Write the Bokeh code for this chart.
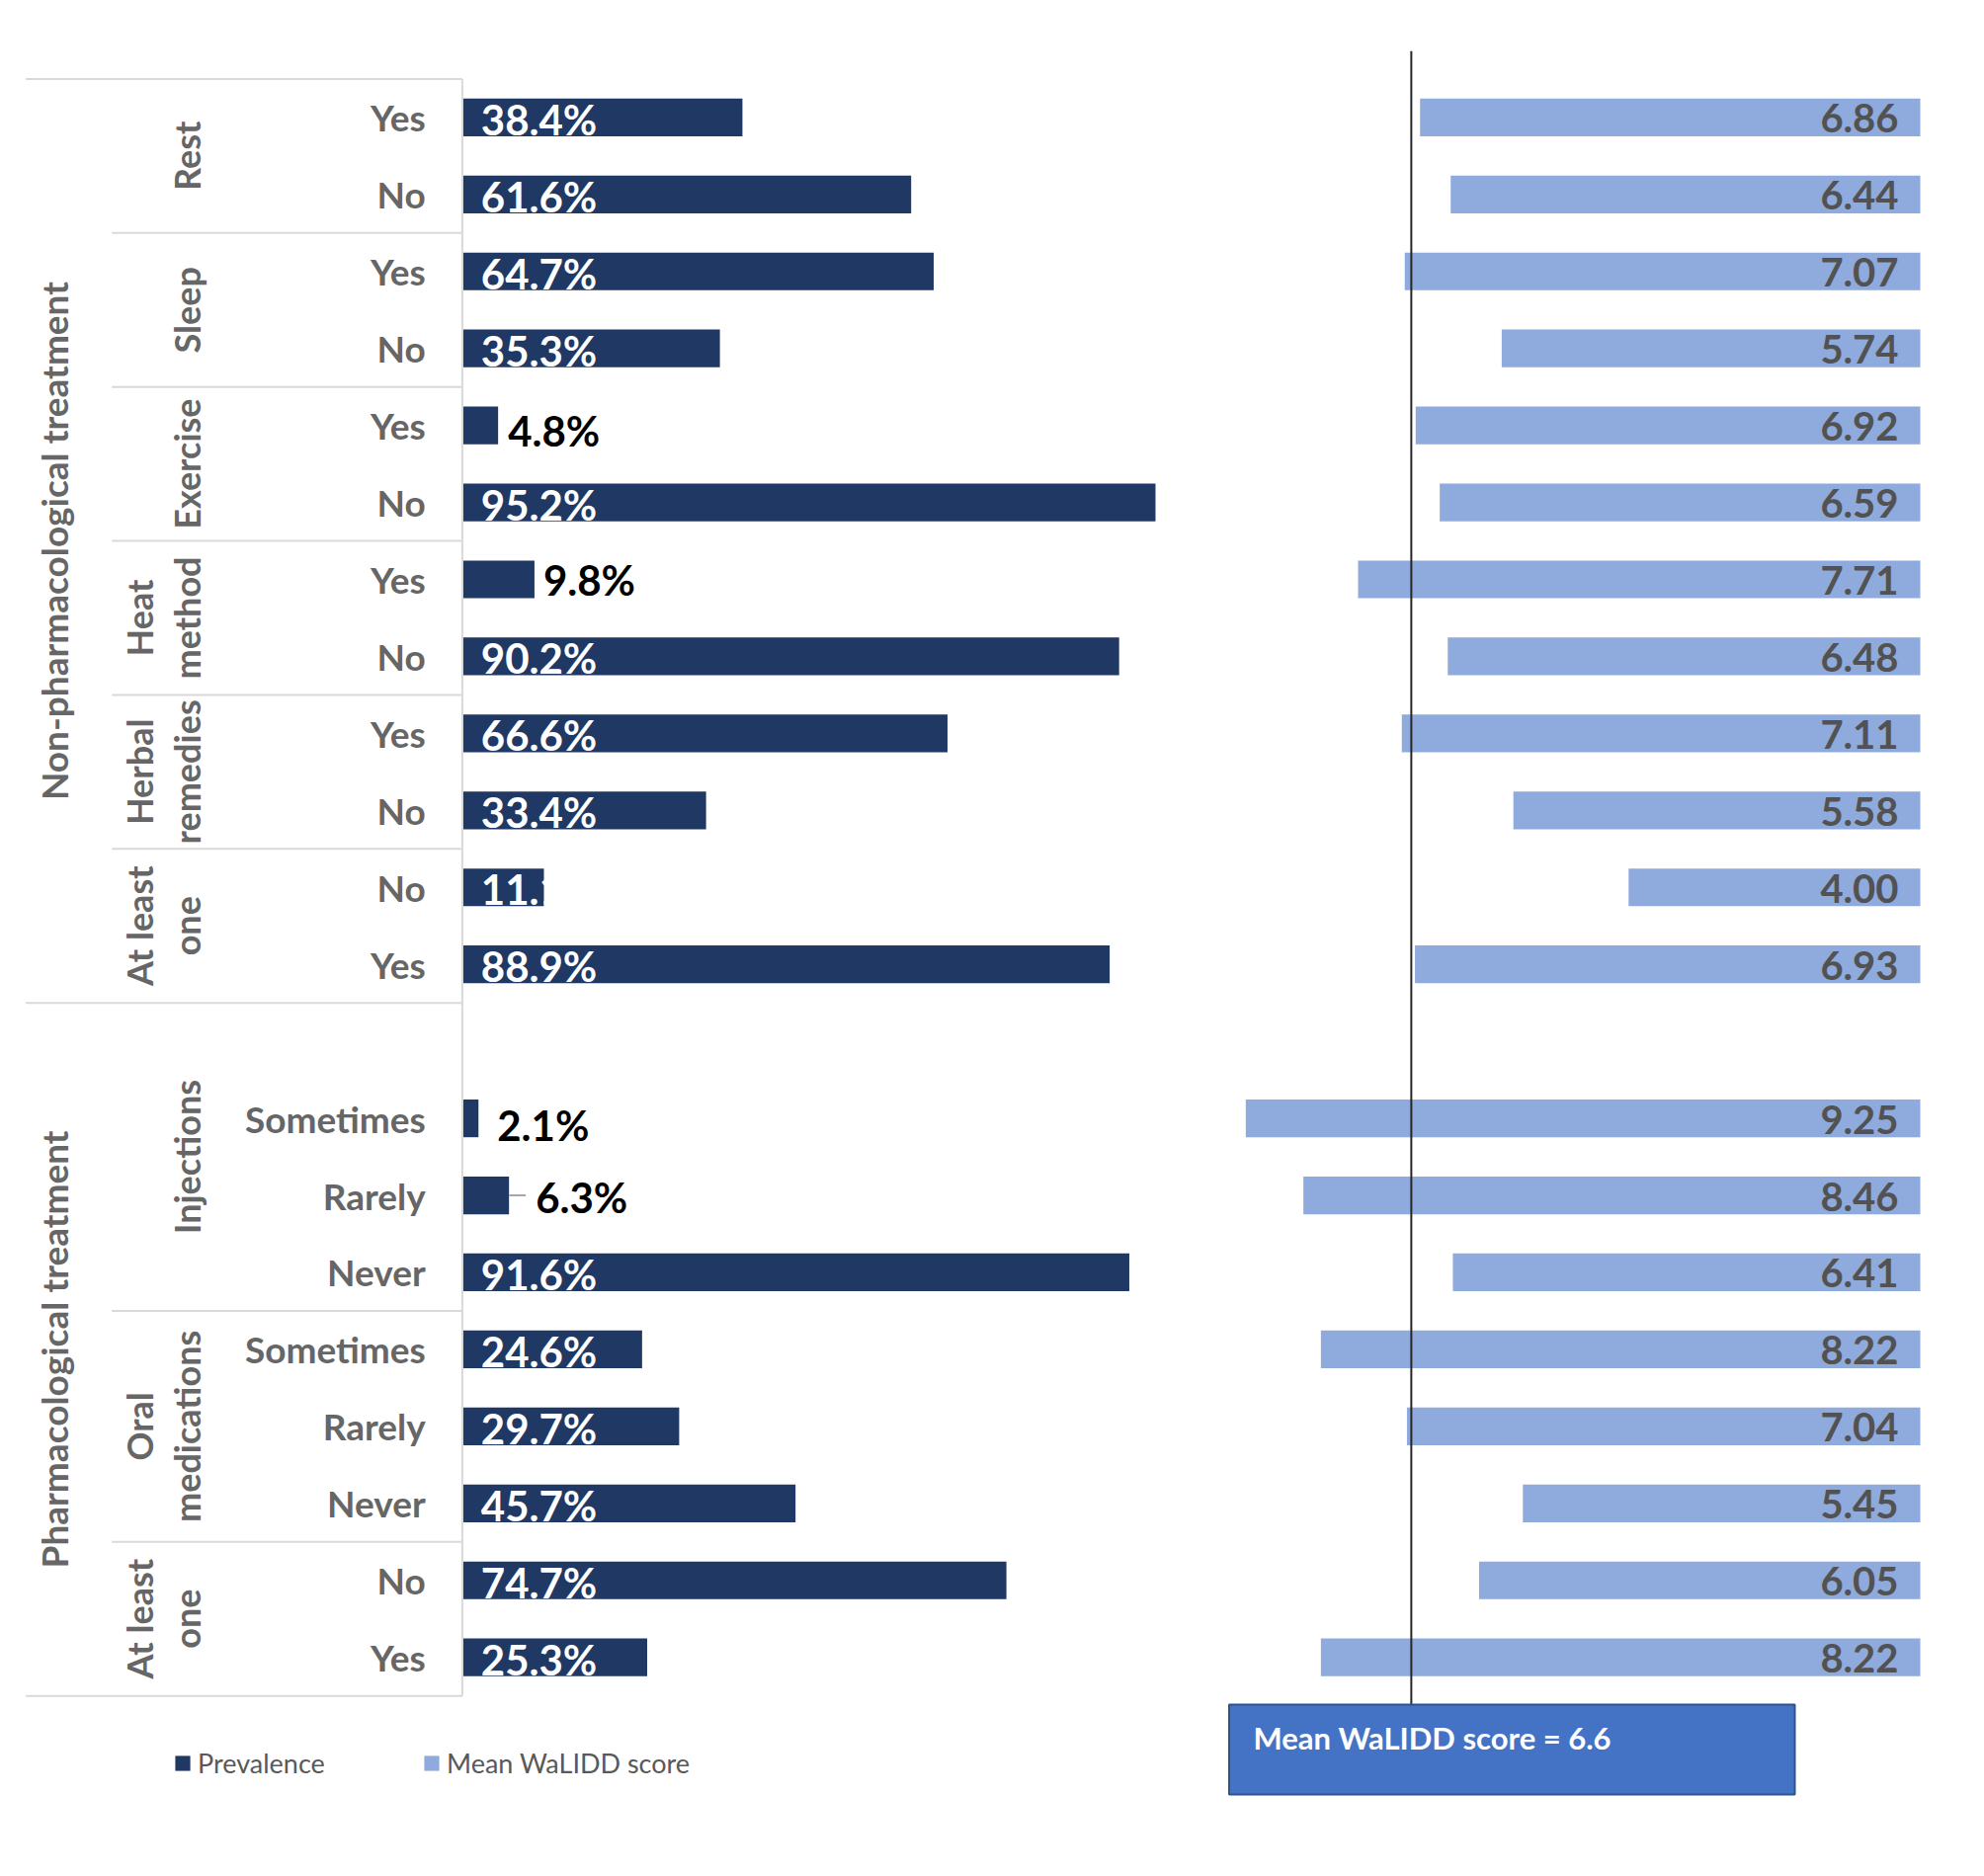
from math import pi
from bokeh.plotting import figure
from bokeh.models import ColumnDataSource, Range1d, Legend, LegendItem, BoxAnnotation, Label
from bokeh.core.properties import value
from bokeh.embed import file_html
from bokeh.resources import INLINE

# ---------------- data ----------------
treatment = ["Non-pharmacological treatment"] * 12 + ["Pharmacological treatment"] * 9
method = ["Rest", "Rest", "Sleep", "Sleep", "Exercise", "Exercise",
          "Heat method", "Heat method", "Herbal remedies", "Herbal remedies",
          "At least one", "At least one",
          "Injections", "Injections", "Injections", "Injections",
          "Oral medications", "Oral medications", "Oral medications",
          "At least one", "At least one"]
response = ["Yes", "No", "Yes", "No", "Yes", "No", "Yes", "No", "Yes", "No", "No", "Yes",
            "", "Sometimes", "Rarely", "Never", "Sometimes", "Rarely", "Never", "No", "Yes"]
prevalence = [38.4, 61.6, 64.7, 35.3, 4.8, 95.2, 9.8, 90.2, 66.6, 33.4, 11.1, 88.9,
              None, 2.1, 6.3, 91.6, 24.6, 29.7, 45.7, 74.7, 25.3]
walidd_score = [6.86, 6.44, 7.07, 5.74, 6.92, 6.59, 7.71, 6.48, 7.11, 5.58, 4.00, 6.93,
                None, 9.25, 8.46, 6.41, 8.22, 7.04, 5.45, 6.05, 8.22]
MEAN_SCORE = 6.6

# ---------------- layout (pixels of the page) ----------------
W, H = 1992, 1883
OFF = 0
PREV_ZERO = 468.3      # page x of 0 %
PREV_PPU = 7.36        # px per %
SCORE_ZERO = 1943.0    # page x of score 0 (score axis runs right-to-left)
SCORE_PPU = 73.8
SLOT_TOP = 79.4        # page y of the first row's top edge
SLOT_H = 77.94         # row pitch
BAR_H = 0.49
MEAN_LINE_POS = 6.98   # where the reference draws its mean marker line

def px_prev(x):
    return (x - PREV_ZERO) / PREV_PPU

def px_score(x):
    return (SCORE_ZERO - x) / SCORE_PPU

def py(y):
    return (y - SLOT_TOP) / SLOT_H

DARK = "#203864"
LIGHT = "#8FAADC"
GRAY_TXT = "#666666"
LINE_GRAY = "#D9D9D9"
FONT = value("Lato")

p = figure(width=W, height=H, output_backend="svg", toolbar_location=None,
           x_range=Range1d(px_prev(OFF), px_prev(OFF + W)),
           y_range=Range1d(py(OFF + H), py(OFF)),
           x_axis_location=None, y_axis_location=None, min_border=0, title=None)
p.extra_x_ranges = {"score": Range1d(px_score(OFF), px_score(OFF + W))}
p.outline_line_color = None
p.grid.grid_line_color = None
p.background_fill_color = "white"

n = len(response)
ys = [i + 0.5 for i in range(n)]
idx = [i for i in range(n) if prevalence[i] is not None]

bars = ColumnDataSource(dict(
    y=[ys[i] for i in idx],
    prev=[prevalence[i] for i in idx],
    score=[walidd_score[i] for i in idx],
    score_lbl=[f"{walidd_score[i]:.2f}" for i in idx],
))

r_prev = p.hbar(y="y", left=0, right="prev", height=BAR_H, source=bars,
                fill_color=DARK, line_color=None)
r_score = p.hbar(y="y", left=0, right="score", height=BAR_H, source=bars,
                 fill_color=LIGHT, line_color=None, x_range_name="score")

# prevalence labels
INSIDE_MIN = 10.0
outside_style = {4: (10, 5), 6: (9, 0), 13: (19, 7), 14: (27, 2)}  # row: (x gap px, y shift px)
in_src = ColumnDataSource(dict(
    x=[0 for i in idx if prevalence[i] >= INSIDE_MIN],
    y=[ys[i] for i in idx if prevalence[i] >= INSIDE_MIN],
    t=[f"{prevalence[i]:.1f}%" for i in idx if prevalence[i] >= INSIDE_MIN],
))
p.text(x="x", y="y", text="t", source=in_src, x_offset=18, y_offset=2,
       text_font=FONT, text_font_style="bold", text_font_size="42px",
       text_color="white", text_align="left", text_baseline="middle")

out_rows = [i for i in idx if prevalence[i] < INSIDE_MIN]
out_src = ColumnDataSource(dict(
    x=[prevalence[i] for i in out_rows],
    y=[ys[i] for i in out_rows],
    t=[f"{prevalence[i]:.1f}%" for i in out_rows],
    xo=[outside_style.get(i, (10, 0))[0] for i in out_rows],
    yo=[outside_style.get(i, (10, 0))[1] for i in out_rows],
))
p.text(x="x", y="y", text="t", source=out_src, x_offset="xo", y_offset="yo",
       text_font=FONT, text_font_style="bold", text_font_size="42px",
       text_color="black", text_align="left", text_baseline="middle")
# leader line for the 6.3 % label
lead = [i for i in out_rows if outside_style.get(i, (0, 0))[0] > 20]
p.segment(x0=[prevalence[i] for i in lead],
          x1=[prevalence[i] + 17 / PREV_PPU for i in lead],
          y0=[ys[i] for i in lead], y1=[ys[i] for i in lead],
          line_color="#A6A6A6", line_width=2)

# score labels
p.text(x=0, y="y", text="score_lbl", source=bars, x_offset=-22, y_offset=1,
       x_range_name="score",
       text_font=FONT, text_font_style="bold", text_font_size="40px",
       text_color="#525252", text_align="right", text_baseline="middle")

# ---------------- category table ----------------
def runs(keys):
    out = []
    start = 0
    for i in range(1, n + 1):
        if i == n or keys[i] != keys[start]:
            out.append((start, i, keys[start]))
            start = i
    return out

main_runs = runs(treatment)
sub_runs = runs([(treatment[i], method[i]) for i in range(n)])

main_b = sorted({s for s, e, k in main_runs} | {n})
sub_b = sorted({s for s, e, k in sub_runs} - set(main_b))
x_sep = px_prev(467.4)
p.segment(x0=[px_prev(25.6)] * len(main_b), x1=[x_sep] * len(main_b),
          y0=main_b, y1=main_b, line_color=LINE_GRAY, line_width=2)
p.segment(x0=[px_prev(112.7)] * len(sub_b), x1=[x_sep] * len(sub_b),
          y0=sub_b, y1=sub_b, line_color=LINE_GRAY, line_width=2)
p.segment(x0=[x_sep], x1=[x_sep], y0=[0], y1=[n], line_color=LINE_GRAY, line_width=2)

# row labels
p.text(x=[px_prev(430.3)] * n, y=ys, text=response,
       text_font=FONT, text_font_style="bold", text_font_size="37px",
       text_color=GRAY_TXT, text_align="right", text_baseline="middle")

# method labels (rotated; two-word labels wrap onto two lines)
mx, my, mt = [], [], []
for s, e, k in sub_runs:
    words = k[1].split(" ")
    yc = (s + e) / 2
    if len(words) == 1:
        mx.append(px_prev(188.2)); my.append(yc); mt.append(words[0])
    else:
        mx.append(px_prev(140.9)); my.append(yc); mt.append(" ".join(words[:-1]))
        mx.append(px_prev(188.2)); my.append(yc); mt.append(words[-1])
p.text(x=mx, y=my, text=mt, angle=pi / 2,
       text_font=FONT, text_font_style="bold", text_font_size="36px",
       text_color=GRAY_TXT, text_align="center", text_baseline="middle")

# treatment labels
p.text(x=[px_prev(53.8)] * len(main_runs), y=[(s + e) / 2 for s, e, k in main_runs],
       text=[k for s, e, k in main_runs], angle=pi / 2,
       text_font=FONT, text_font_style="bold", text_font_size="37px",
       text_color=GRAY_TXT, text_align="center", text_baseline="middle")

# ---------------- mean annotation ----------------
p.segment(x0=[MEAN_LINE_POS], x1=[MEAN_LINE_POS], y0=[py(51.2)], y1=[py(1725)],
          x_range_name="score", line_color="#262626", line_width=2)
box = BoxAnnotation(left=px_score(1243.5), right=px_score(1816), top=py(1725), bottom=py(1816),
                    x_range_name="score", fill_color="#4472C4", fill_alpha=1.0,
                    line_color="#2F528F", line_width=2, line_alpha=1.0)
p.add_layout(box)
p.add_layout(Label(x=px_score(1268), y=py(1758), x_range_name="score",
                   text=f"Mean WaLIDD score = {MEAN_SCORE}", text_color="white",
                   text_font="Lato", text_font_style="bold", text_font_size="31px",
                   text_align="left", text_baseline="middle"))

# ---------------- legend ----------------
legend = Legend(items=[LegendItem(label="Prevalence", renderers=[r_prev]),
                       LegendItem(label="Mean WaLIDD score", renderers=[r_score])],
                orientation="horizontal", location=(175, 82),
                glyph_width=19, glyph_height=19, label_standoff=6, label_width=227,
                spacing=0, padding=0, margin=0,
                label_text_font="Lato", label_text_font_size="27px",
                label_text_color="#595959", border_line_color=None,
                background_fill_alpha=0)
p.add_layout(legend)

open("out.html", "w").write(file_html(p, INLINE))
